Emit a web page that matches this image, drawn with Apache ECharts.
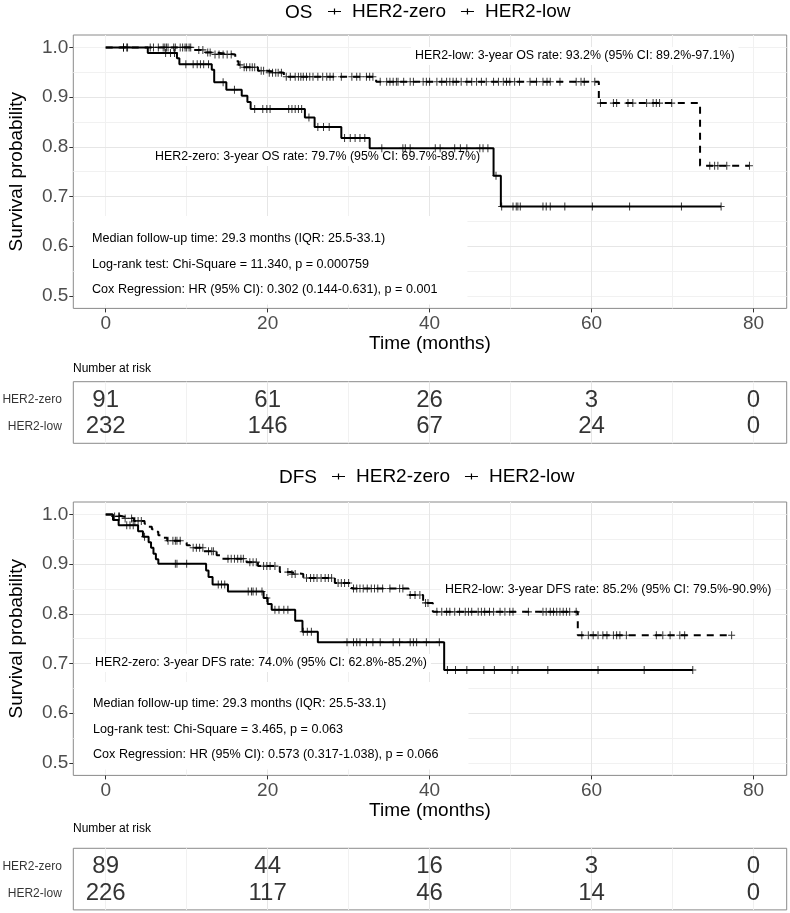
<!DOCTYPE html>
<html>
<head>
<meta charset="utf-8">
<script src="https://cdn.jsdelivr.net/npm/echarts@6/dist/echarts.min.js"></script>
<style>html,body{margin:0;padding:0;background:#fff}#main{width:790px;height:913px}</style>
</head>
<body>
<div id="main"></div>
<script>
var chart = echarts.init(document.getElementById('main'));

// ---- data ----
var groups = ['HER2-zero', 'HER2-low'];
var xTicks = [0, 20, 40, 60, 80];
var yTicks = [0.5, 0.6, 0.7, 0.8, 0.9, 1.0];
var riskTimes = [0, 20, 40, 60, 80];

// OS, HER2-zero: step times / survival, censoring times
var osZeroT = [0, 5.2, 8.8, 9.1, 13.1, 13.4, 14.9, 16.8, 17.5, 17.9, 24.6, 25.8, 29.1, 32.6, 47.9, 48.8, 76.0];
var osZeroS = [1, 0.989, 0.978, 0.966, 0.955, 0.930, 0.915, 0.903, 0.890, 0.876, 0.859, 0.840, 0.818, 0.797, 0.742, 0.680, 0.680];
var osZeroCens = [2.2, 2.6, 7.4, 8.0, 8.5, 9.9, 10.8, 11.3, 11.7, 12.1, 12.7, 14.5, 15.9, 18.4, 19.4, 19.9, 20.3,
	22.6, 23.0, 23.4, 23.8, 24.2, 25.1, 26.2, 26.9, 27.6, 29.5, 30.2, 30.8, 31.4, 32.0, 34.1, 36.7, 37.0, 37.6,
	40.7, 41.3, 43.1, 43.8, 44.6, 46.2, 46.6, 47.2, 48.2, 48.9, 50.3, 50.7, 50.9, 51.2, 54.0, 54.4, 54.9, 56.7,
	60.1, 64.7, 71.1, 76.0];

// OS, HER2-low
var osLowT = [0, 10.8, 12.3, 13.2, 16.0, 16.4, 16.9, 18.8, 19.9, 22.0, 33.4, 60.9, 73.4, 79.5];
var osLowS = [1, 0.995, 0.990, 0.986, 0.972, 0.965, 0.960, 0.953, 0.949, 0.941, 0.931, 0.888, 0.762, 0.762];
var osLowCens = [2.2, 2.7, 5.5, 5.9, 6.5, 7.1, 7.3, 7.5, 7.7, 8.4, 8.6, 9.2, 9.5, 9.8, 10.0, 10.3, 10.5, 11.5, 12.0,
	12.6, 12.9, 13.5, 14.0, 14.5, 15.0, 15.5, 16.6, 17.1, 17.4, 17.8, 18.1, 18.4, 19.2, 19.5, 20.2, 20.6, 21.0,
	21.3, 21.7, 22.3, 22.8, 23.4, 23.8, 24.1, 24.4, 24.8, 25.2, 25.6, 26.2, 26.8, 27.3, 27.7, 28.1, 29.1, 30.4,
	31.0, 31.4, 32.2, 32.6, 33.0, 33.9, 34.7, 35.1, 35.5, 35.9, 36.1, 36.8, 37.6, 38.0, 39.2, 39.6, 40.0, 40.9,
	41.5, 42.1, 42.5, 42.9, 43.3, 43.9, 44.6, 45.2, 45.8, 46.4, 47.0, 47.9, 48.5, 49.1, 49.5, 49.9, 50.5, 51.1,
	52.4, 53.2, 54.0, 54.5, 54.9, 56.1, 58.1, 58.7, 59.1, 60.4, 61.1, 62.7, 63.1, 64.5, 65.1, 66.8, 67.6, 68.0,
	68.4, 69.9, 74.6, 75.2, 75.6, 76.7, 79.5];

// DFS, HER2-zero
var dfsZeroT = [0, 0.9, 1.6, 4.0, 4.6, 5.3, 5.6, 5.9, 6.2, 6.5, 12.4, 12.7, 13.2, 15.1, 19.5, 20.0, 20.5, 23.4, 24.3, 26.2, 41.8, 72.5];
var dfsZeroS = [1, 0.989, 0.978, 0.966, 0.955, 0.944, 0.933, 0.921, 0.910, 0.901, 0.887, 0.874, 0.859, 0.845, 0.832, 0.820, 0.808, 0.786, 0.764, 0.743, 0.687, 0.687];
var dfsZeroCens = [2.6, 3.0, 3.4, 4.8, 8.6, 8.8, 10.0, 13.9, 14.3, 14.7, 17.6, 18.0, 18.2, 18.6, 19.3, 19.9, 20.9,
	21.4, 22.0, 22.5, 24.4, 24.9, 25.4, 29.8, 30.6, 31.0, 31.4, 32.2, 33.0, 33.9, 35.5, 36.3, 37.6, 38.0, 38.4,
	39.6, 41.2, 42.2, 43.2, 44.6, 46.7, 48.0, 50.2, 50.9, 54.6, 60.8, 66.5, 72.5];

// DFS, HER2-low
var dfsLowT = [0, 1.0, 2.2, 3.5, 4.8, 5.3, 5.7, 6.1, 6.5, 6.9, 7.6, 9.6, 10.0, 10.4, 12.1, 13.7, 14.3, 17.4, 18.8,
	21.5, 22.8, 24.4, 28.3, 30.4, 37.4, 39.2, 40.4, 58.3, 77.3];
var dfsLowS = [1, 0.996, 0.992, 0.987, 0.981, 0.975, 0.970, 0.965, 0.958, 0.953, 0.947, 0.943, 0.938, 0.933, 0.926,
	0.918, 0.911, 0.904, 0.896, 0.884, 0.880, 0.872, 0.862, 0.851, 0.838, 0.822, 0.804, 0.757, 0.757];
var dfsLowCens = [1.1, 1.6, 1.7, 2.4, 3.2, 3.6, 4.0, 4.4, 7.7, 8.3, 8.6, 8.8, 9.2, 10.8, 11.2, 11.6, 12.0, 12.7,
	13.1, 13.3, 15.1, 15.5, 15.9, 16.3, 16.7, 17.0, 17.8, 18.2, 18.6, 19.5, 19.9, 20.3, 20.9, 22.5, 23.0, 23.4,
	24.8, 25.3, 25.7, 26.1, 26.6, 27.1, 27.5, 27.9, 28.7, 29.1, 29.5, 30.0, 30.6, 31.0, 31.4, 31.8, 32.3, 32.8,
	33.2, 33.6, 34.2, 35.1, 36.3, 36.7, 37.6, 38.2, 38.8, 39.5, 39.8, 40.9, 41.5, 42.1, 42.5, 43.1, 43.7, 44.4,
	44.8, 45.2, 46.0, 46.4, 46.8, 47.4, 47.9, 48.7, 49.3, 49.9, 50.3, 52.2, 54.0, 54.4, 54.9, 55.3, 55.7, 56.1,
	56.5, 56.9, 57.3, 58.1, 58.8, 59.6, 60.2, 60.8, 61.4, 61.9, 62.7, 63.1, 63.5, 64.3, 68.0, 68.8, 69.7, 70.9,
	71.5, 77.3];

// number at risk
var osRiskZero = [91, 61, 26, 3, 0];
var osRiskLow = [232, 146, 67, 24, 0];
var dfsRiskZero = [89, 44, 16, 3, 0];
var dfsRiskLow = [226, 117, 46, 14, 0];

var osNotes = [
	'HER2-low: 3-year OS rate: 93.2% (95% CI: 89.2%-97.1%)',
	'HER2-zero: 3-year OS rate: 79.7% (95% CI: 69.7%-89.7%)',
	'Median follow-up time: 29.3 months (IQR: 25.5-33.1)',
	'Log-rank test: Chi-Square = 11.340, p = 0.000759',
	'Cox Regression: HR (95% CI): 0.302 (0.144-0.631), p = 0.001'
];
var dfsNotes = [
	'HER2-low: 3-year DFS rate: 85.2% (95% CI: 79.5%-90.9%)',
	'HER2-zero: 3-year DFS rate: 74.0% (95% CI: 62.8%-85.2%)',
	'Median follow-up time: 29.3 months (IQR: 25.5-33.1)',
	'Log-rank test: Chi-Square = 3.465, p = 0.063',
	'Cox Regression: HR (95% CI): 0.573 (0.317-1.038), p = 0.066'
];

// ---- helpers ----
var FONT = 'Liberation Sans, Arial, sans-serif';
var PLUS = 'path://M0,4.3H10V5.7H0Z M4.3,0H5.7V10H4.3Z';
var LEGEND_ICON = 'path://M0,2.4H13V3.6H0Z M5.9,0H7.1V6H5.9Z';
var X_MIN = -4, X_MAX = 84.1;

function steps(T, S) {
	return T.map(function(t, i) { return [t, S[i]]; });
}
function survAt(T, S, t) {
	var s = S[0];
	for (var i = 0; i < T.length; i++) {
		if (T[i] <= t) s = S[i];
	}
	return s;
}
function marks(T, S, C) {
	return C.map(function(t) { return [t, survAt(T, S, t)]; });
}
function riskData(counts) {
	var res = [];
	counts.forEach(function(row, r) {
		row.forEach(function(n, i) { res.push([riskTimes[i], r + 1, n]); });
	});
	return res;
}

var L = 73.3, W = 713.4, PH = 273.4, RH = 61.6;

function grid(top, h) {
	return { left: L, top: top, width: W, height: h, show: true, borderColor: '#8a8a8a', borderWidth: 1,
		backgroundColor: 'transparent', containLabel: false, outerBoundsMode: 'none' };
}
function splitL(color) {
	return { show: true, showMinLine: false, showMaxLine: false, lineStyle: { color: color, width: 1 } };
}
function mainX(g, withLabels) {
	return {
		type: 'value', gridIndex: g, min: X_MIN, max: X_MAX, splitNumber: 5, z: 1,
		name: withLabels ? 'Time (months)' : '', nameLocation: 'middle', nameGap: 26,
		nameTextStyle: { fontSize: 19, color: '#000', fontFamily: FONT },
		axisLine: { show: false, onZero: false },
		axisTick: { show: withLabels, length: 4, customValues: xTicks, lineStyle: { color: '#333' } },
		axisLabel: { show: withLabels, customValues: xTicks, margin: 6, fontSize: 19, color: '#4d4d4d', fontFamily: FONT },
		splitLine: splitL('#e6e6e6')
	};
}
function minorX(g) {
	return {
		type: 'value', gridIndex: g, min: X_MIN, max: X_MAX, splitNumber: 10, z: 0,
		axisLine: { show: false, onZero: false }, axisTick: { show: false }, axisLabel: { show: false },
		splitLine: splitL('#f1f1f1')
	};
}
function mainY(g) {
	return {
		type: 'value', gridIndex: g, min: 0.475, max: 1.025, splitNumber: 5, z: 1,
		name: 'Survival probability', nameLocation: 'middle', nameGap: 47,
		nameTextStyle: { fontSize: 19, color: '#000', fontFamily: FONT },
		axisLine: { show: false, onZero: false },
		axisTick: { show: true, length: 4, customValues: yTicks, lineStyle: { color: '#333' } },
		axisLabel: { customValues: yTicks, margin: 5, fontSize: 19, color: '#4d4d4d', fontFamily: FONT,
			formatter: function(v) { return v.toFixed(1); } },
		splitLine: splitL('#e6e6e6')
	};
}
function minorY(g) {
	return {
		type: 'value', gridIndex: g, min: 0.475, max: 1.025, splitNumber: 11, z: 0,
		axisLine: { show: false, onZero: false }, axisTick: { show: false }, axisLabel: { show: false },
		splitLine: splitL('#f1f1f1')
	};
}
function riskY(g) {
	return {
		type: 'value', gridIndex: g, min: 0.31, max: 2.62, inverse: true,
		axisLine: { show: false, onZero: false }, axisTick: { show: false }, axisLabel: { show: false },
		splitLine: { show: false }
	};
}

function kmSeries(xi, yi, T, S, C, name, dashed) {
	return [{
		type: 'line', name: name, xAxisIndex: xi, yAxisIndex: yi, step: 'end', symbol: 'none',
		color: '#000', z: 4, animation: false,
		lineStyle: { color: '#000', width: 2, type: dashed ? [7, 6] : 'solid' },
		data: steps(T, S)
	}, {
		type: 'scatter', name: name, xAxisIndex: xi, yAxisIndex: yi, symbol: PLUS, symbolSize: [7, 8],
		itemStyle: { color: '#000' }, z: 5, animation: false,
		data: marks(T, S, C)
	}];
}
function riskSeries(xi, yi, zero, low) {
	return [{
		type: 'scatter', name: 'at risk', xAxisIndex: xi, yAxisIndex: yi, symbolSize: 1, clip: false,
		itemStyle: { color: 'rgba(0,0,0,0)' }, z: 4, animation: false,
		label: { show: true, position: 'inside', fontSize: 24, color: '#000', fontFamily: FONT,
			formatter: function(p) { return p.value[2]; } },
		data: riskData([zero, low])
	}, {
		type: 'scatter', name: 'rows', xAxisIndex: xi, yAxisIndex: yi, symbolSize: 1, clip: false,
		itemStyle: { color: 'rgba(0,0,0,0)' }, z: 4, animation: false,
		label: { show: true, position: 'left', distance: 11, fontSize: 12, color: '#000', fontFamily: FONT,
			formatter: function(p) { return p.value[2]; } },
		data: groups.map(function(gname, r) { return [X_MIN, r + 1, gname]; })
	}];
}

function note(text, left, top, pad, size, lh) {
	return {
		text: text, left: left, top: top, padding: pad, backgroundColor: '#fff', z: 2,
		textStyle: { fontSize: size, fontWeight: 'normal', color: '#000', fontFamily: FONT, lineHeight: lh || 14 }
	};
}
function head(text, left, top) {
	return { text: text, left: left, top: top, padding: 0,
		textStyle: { fontSize: 19, fontWeight: 'normal', color: '#000', fontFamily: FONT } };
}
function legend(left, top) {
	return {
		left: left, top: top, itemWidth: 13, itemHeight: 6, itemGap: 15, padding: 0,
		selectedMode: false,
		textStyle: { fontSize: 19, color: '#000', fontFamily: FONT, padding: [0, 0, 0, 6] },
		data: groups.map(function(n) { return { name: n, icon: LEGEND_ICON }; })
	};
}

var option = {
	backgroundColor: '#fff',
	animation: false,
	title: [
		head('OS', 285, 3),
		head('DFS', 279, 468),
		note(osNotes[0], 411, 47, [2, 4, 2, 4], 12.4),
		note(osNotes[1], 151, 148, [2, 4, 2, 4], 12.4),
		note(osNotes.slice(2).join('\n'), 75, 216, [10, 30, 2, 17], 12.6, 25.5),
		note(dfsNotes[0], 441, 581, [2, 4, 2, 4], 12.4),
		note(dfsNotes[1], 91, 654, [2, 4, 2, 4], 12.4),
		note(dfsNotes.slice(2).join('\n'), 75, 682, [9, 30, 2, 18], 12.6, 25.5),
		{ text: 'Number at risk', left: 73, top: 363, padding: 0,
			textStyle: { fontSize: 12, fontWeight: 'normal', color: '#000', fontFamily: FONT } },
		{ text: 'Number at risk', left: 73, top: 823, padding: 0,
			textStyle: { fontSize: 12, fontWeight: 'normal', color: '#000', fontFamily: FONT } }
	],
	legend: [legend(328, 2), legend(332, 467)],
	grid: [grid(35, PH), grid(381.7, RH), grid(502, PH), grid(848.3, RH)],
	xAxis: [mainX(0, true), minorX(0), mainX(1, false), minorX(1),
		mainX(2, true), minorX(2), mainX(3, false), minorX(3)],
	yAxis: [mainY(0), minorY(0), riskY(1), mainY(2), minorY(2), riskY(3)],
	series: [].concat(
		kmSeries(0, 0, osZeroT, osZeroS, osZeroCens, groups[0], false),
		kmSeries(0, 0, osLowT, osLowS, osLowCens, groups[1], true),
		riskSeries(2, 2, osRiskZero, osRiskLow),
		kmSeries(4, 3, dfsZeroT, dfsZeroS, dfsZeroCens, groups[0], false),
		kmSeries(4, 3, dfsLowT, dfsLowS, dfsLowCens, groups[1], true),
		riskSeries(6, 5, dfsRiskZero, dfsRiskLow)
	)
};

chart.setOption(option);
</script>
</body>
</html>
